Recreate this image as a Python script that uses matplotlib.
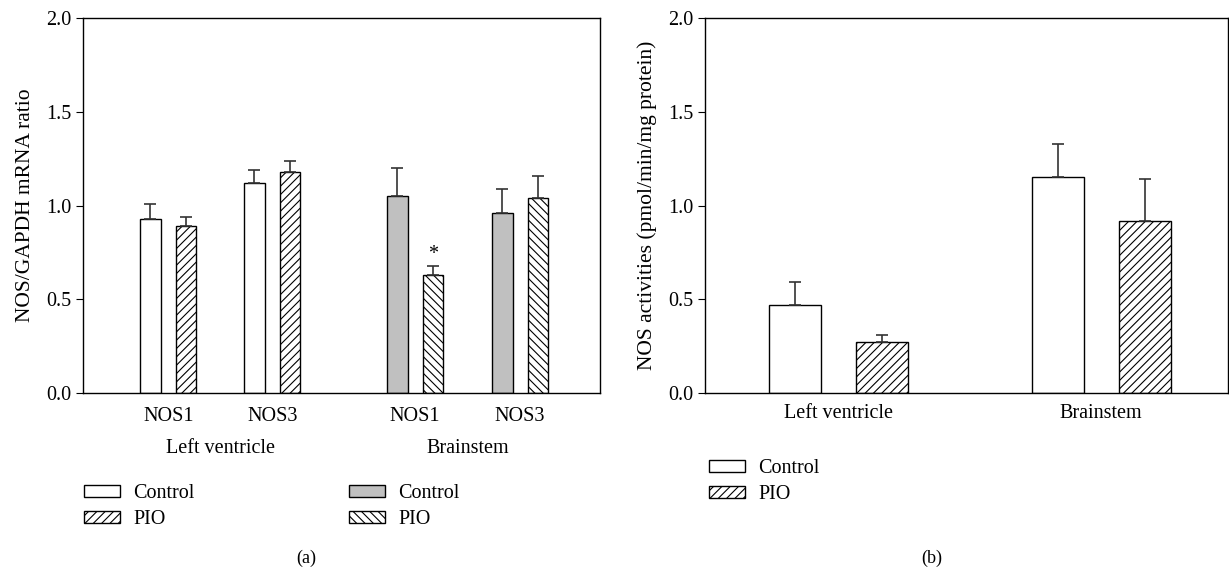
import numpy as np
import matplotlib.pyplot as plt
from matplotlib.patches import Patch

plt.rcParams['font.family'] = ['Liberation Serif', 'DejaVu Serif']
plt.rcParams['hatch.linewidth'] = 0.8

# panel (a): mRNA ratio
genes = ['NOS1', 'NOS3', 'NOS1', 'NOS3']
tissues_a = ['Left ventricle', 'Brainstem']
ctrl_a = [0.93, 1.12, 1.05, 0.96]
ctrl_a_err = [0.08, 0.07, 0.15, 0.13]
pio_a = [0.89, 1.18, 0.63, 1.04]
pio_a_err = [0.05, 0.06, 0.05, 0.12]

# panel (b): NOS activity
tissues_b = ['Left ventricle', 'Brainstem']
ctrl_b = [0.47, 1.15]
ctrl_b_err = [0.12, 0.18]
pio_b = [0.27, 0.92]
pio_b_err = [0.04, 0.22]

fs = 14.5

fig = plt.figure(figsize=(12.29, 5.73), dpi=100)
ax1 = fig.add_axes([0.0675, 0.3141, 0.4207, 0.6545])
ax2 = fig.add_axes([0.5736, 0.3141, 0.4256, 0.6545])

ecol = '#333333'
err_kw = dict(ecolor=ecol, elinewidth=1.2, capsize=4, capthick=1.2)

# ---- panel (a)
xa = np.array([0, 1, 2.375, 3.385])
w = 0.2
off = 0.172
ctrl_colors = ['white', 'white', '#c0c0c0', '#c0c0c0']
pio_hatch = ['////', '////', '\\\\\\\\', '\\\\\\\\']
for i in range(len(xa)):
    ax1.bar(xa[i] - off, ctrl_a[i], w, color=ctrl_colors[i], edgecolor='black', linewidth=1.0,
            yerr=[[0], [ctrl_a_err[i]]], error_kw=err_kw, zorder=2)
    ax1.bar(xa[i] + off, pio_a[i], w, color='white', edgecolor='black', linewidth=1.0,
            hatch=pio_hatch[i], yerr=[[0], [pio_a_err[i]]], error_kw=err_kw, zorder=2)
ax1.text(xa[2] + off, pio_a[2] + pio_a_err[2] + 0.01, '*', ha='center', va='bottom', fontsize=fs)

ax1.set_xlim(-0.82, 4.154)
ax1.set_ylim(0, 2.0)
ax1.set_yticks([0, 0.5, 1.0, 1.5, 2.0])
ax1.set_xticks(xa)
ax1.set_xticklabels(genes, fontsize=fs)
ax1.tick_params(axis='x', length=0, pad=10)
ax1.tick_params(axis='y', labelsize=fs, direction='out', length=5)
ax1.set_ylabel('NOS/GAPDH mRNA ratio', fontsize=15.5, labelpad=8)
for k in range(2):
    ax1.text((xa[2 * k] + xa[2 * k + 1]) / 2, -0.147, tissues_a[k], ha='center', va='center',
             fontsize=fs, transform=ax1.get_xaxis_transform())

# ---- panel (b)
xb = np.arange(len(tissues_b))
wb = 0.198
offb = 0.166
ax2.bar(xb - offb, ctrl_b, wb, color='white', edgecolor='black', linewidth=1.0,
        yerr=[np.zeros(2), ctrl_b_err], error_kw=err_kw, zorder=2)
ax2.bar(xb + offb, pio_b, wb, color='white', edgecolor='black', linewidth=1.0, hatch='////',
        yerr=[np.zeros(2), pio_b_err], error_kw=err_kw, zorder=2)
ax2.set_xlim(-0.5095, 1.483)
ax2.set_ylim(0, 2.0)
ax2.set_yticks([0, 0.5, 1.0, 1.5, 2.0])
ax2.set_xticks(xb)
ax2.set_xticklabels(tissues_b, fontsize=fs)
ax2.tick_params(axis='x', length=0, pad=8)
ax2.tick_params(axis='y', labelsize=fs, direction='out', length=5)
ax2.set_ylabel('NOS activities (pmol/min/mg protein)', fontsize=15.5, labelpad=8)

for ax in (ax1, ax2):
    for s in ax.spines.values():
        s.set_linewidth(1.0)

# legends
leg_kw = dict(frameon=False, fontsize=fs, handlelength=1.8, handleheight=0.5,
              handletextpad=0.65, labelspacing=0.35, borderaxespad=0, borderpad=0)
h1 = [Patch(facecolor='white', edgecolor='black', label='Control'),
      Patch(facecolor='white', edgecolor='black', hatch='////', label='PIO')]
h2 = [Patch(facecolor='#c0c0c0', edgecolor='black', label='Control'),
      Patch(facecolor='white', edgecolor='black', hatch='\\\\\\\\', label='PIO')]
fig.legend(handles=h1, loc='center left', bbox_to_anchor=(0.0683, 0.116), **leg_kw)
fig.legend(handles=h2, loc='center left', bbox_to_anchor=(0.284, 0.116), **leg_kw)
fig.legend(handles=h1, loc='center left', bbox_to_anchor=(0.5770, 0.1597), **leg_kw)

fig.text(0.2494, 0.026, '(a)', ha='center', va='center', fontsize=13)
fig.text(0.7583, 0.026, '(b)', ha='center', va='center', fontsize=13)

fig.savefig('out.png', dpi=100)
